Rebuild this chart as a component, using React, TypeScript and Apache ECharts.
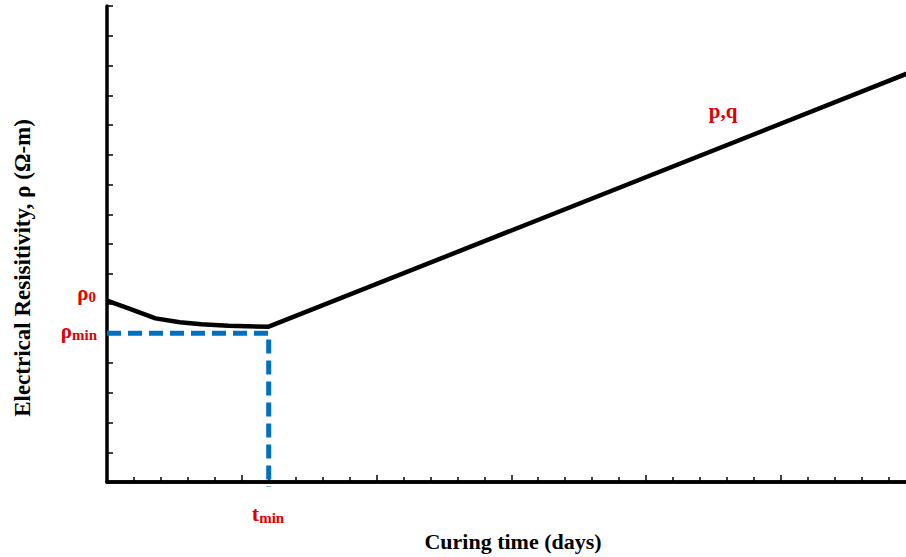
import React, { useEffect, useRef } from "react";
import * as echarts from "echarts";

// Curing time (days) and electrical resistivity values
const curveTime = [0, 0.9, 1.8, 2.7, 3.5, 4.5, 6, 30];
const curveRho = [6.1, 5.8, 5.5, 5.37, 5.3, 5.25, 5.22, 13.84];
const tMin = 6;
const rhoMin = 5;
const dashTime = [0, tMin, tMin];
const dashRho = [rhoMin, rhoMin, -0.17];
const xRange = [0, 30];
const yRange = [0, 16];

const SERIF = "'Liberation Serif', 'Times New Roman', serif";
const RED = "#E00000";

export default function App() {
  const ref = useRef<HTMLDivElement>(null);
  useEffect(() => {
    if (!ref.current) return;
    const chart = echarts.init(ref.current, null, { renderer: "svg" });
    const sub = (main: number, s: number, pad: number) => ({
      a: { fontSize: main, fontWeight: "bold", fontFamily: SERIF, fill: RED },
      b: {
        fontSize: s,
        fontWeight: "bold",
        fontFamily: SERIF,
        fill: RED,
        padding: [pad, 0, 0, 0],
      },
    });
    chart.setOption({
      animation: false,
      backgroundColor: "#ffffff",
      grid: { left: 107, top: 6, bottom: 75, width: 808.5, containLabel: false },
      xAxis: [
        {
          type: "value",
          min: xRange[0],
          max: xRange[1],
          interval: 5,
          axisLine: { show: true, onZero: false, lineStyle: { color: "#000", width: 3.5 } },
          axisTick: { show: true, inside: true, length: 7, lineStyle: { color: "#000", width: 1.5 } },
          minorTick: { show: true, splitNumber: 5, length: 5, lineStyle: { color: "#000", width: 1.5 } },
          axisLabel: { show: false },
          splitLine: { show: false },
          minorSplitLine: { show: false },
        },
        {
          type: "value",
          position: "top",
          min: xRange[0],
          max: xRange[1],
          axisLine: { show: true, lineStyle: { color: "#000", width: 3.5 } },
          axisTick: { show: false },
          axisLabel: { show: false },
          splitLine: { show: false },
        },
      ],
      yAxis: {
        type: "value",
        min: yRange[0],
        max: yRange[1],
        interval: 1,
        axisLine: { show: true, onZero: false, lineStyle: { color: "#000", width: 3.5 } },
        axisTick: { show: true, inside: true, length: 6, lineStyle: { color: "#000", width: 1.5 } },
        axisLabel: { show: false },
        splitLine: { show: false },
      },
      series: [
        {
          type: "line",
          data: curveTime.map((t, i) => [t, curveRho[i]]),
          showSymbol: false,
          symbol: "none",
          lineStyle: { color: "#000", width: 4.5 },
          z: 2,
        },
        {
          type: "line",
          data: dashTime.map((t, i) => [t, dashRho[i]]),
          showSymbol: false,
          symbol: "none",
          clip: false,
          lineStyle: { color: "#0070C0", width: 5, type: [14, 7], cap: "butt" },
          z: 3,
        },
      ],
      graphic: [
        {
          type: "text",
          x: 22,
          y: 268,
          rotation: Math.PI / 2,
          style: {
            text: "Electrical Resisitivity, ρ (Ω-m)",
            font: `bold 23px ${SERIF}`,
            fill: "#000",
            align: "center",
            verticalAlign: "middle",
          },
        },
        {
          type: "text",
          x: 513,
          y: 541,
          style: {
            text: "Curing time (days)",
            font: `bold 22px ${SERIF}`,
            fill: "#000",
            align: "center",
            verticalAlign: "middle",
          },
        },
        {
          type: "text",
          x: 96,
          y: 293,
          style: {
            text: "{a|ρ}{b|0}",
            align: "right",
            verticalAlign: "middle",
            rich: sub(21, 15, 7),
          },
        },
        {
          type: "text",
          x: 97,
          y: 331,
          style: {
            text: "{a|ρ}{b|min}",
            align: "right",
            verticalAlign: "middle",
            rich: sub(21, 15, 7),
          },
        },
        {
          type: "text",
          x: 268,
          y: 513,
          style: {
            text: "{a|t}{b|min}",
            align: "center",
            verticalAlign: "middle",
            rich: sub(22, 15, 9),
          },
        },
        {
          type: "text",
          x: 723,
          y: 111,
          style: {
            text: "p,q",
            font: `bold 21px ${SERIF}`,
            fill: RED,
            align: "center",
            verticalAlign: "middle",
          },
        },
      ],
    });
    return () => chart.dispose();
  }, []);
  return (
    <div
      style={{ position: "fixed", left: 0, top: 0, width: 906, height: 557, overflow: "hidden", background: "#fff" }}
    >
      <div ref={ref} style={{ width: 930, height: 557 }} />
    </div>
  );
}
